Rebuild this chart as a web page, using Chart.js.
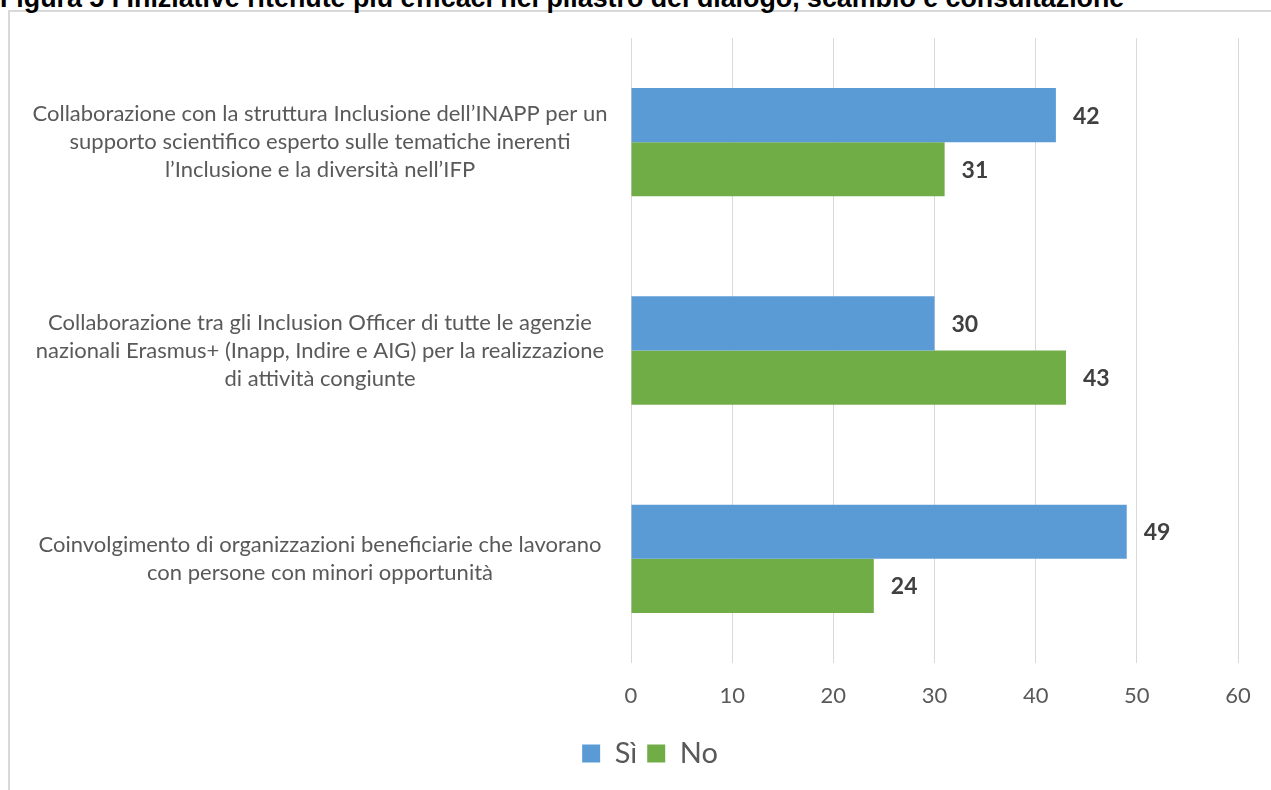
<!DOCTYPE html>
<html lang="it">
<head>
    <meta charset="UTF-8">
    <title>Figura 5</title>
    <script src="https://cdn.jsdelivr.net/npm/chart.js"></script>
    <style>
        body {
            margin: 0;
            width: 1271px;
            height: 790px;
            overflow: hidden;
            background: #fff;
            position: relative;
        }
        .title {
            position: absolute;
            left: 0;
            top: -15px;
            font-family: "Liberation Sans", Arial, sans-serif;
            font-weight: bold;
            font-size: 26.8px;
            line-height: 27px;
            color: #000;
            white-space: nowrap;
        }
        .frame {
            position: absolute;
            left: 8px;
            top: 10px;
            width: 1300px;
            height: 820px;
            border: 2px solid #d9d9d9;
        }
        #chart {
            position: absolute;
            left: 0;
            top: 0;
        }
    </style>
</head>
<body>
    <div class="frame"></div>
    <div class="title">Figura 5 I Iniziative ritenute più efficaci nel pilastro del dialogo, scambio e consultazione</div>
    <canvas id="chart" width="1271" height="790"></canvas>

    <script>
        const categories = [
            ['Collaborazione con la struttura Inclusione dell\u2019INAPP per un', 'supporto scientifico esperto sulle tematiche inerenti', 'l\u2019Inclusione e la diversità nell\u2019IFP'],
            ['Collaborazione tra gli Inclusion Officer di tutte le agenzie', 'nazionali Erasmus+ (Inapp, Indire e AIG) per la realizzazione', 'di attività congiunte'],
            ['Coinvolgimento di organizzazioni beneficiarie che lavorano', 'con persone con minori opportunità']
        ];
        const siValues = [42, 30, 49];
        const noValues = [31, 43, 24];
        const seriesNames = ['Sì', 'No'];
        const xTicks = [0, 10, 20, 30, 40, 50, 60];

        const labelFont = 'Lato, "Open Sans", sans-serif';

        // category labels drawn centred in the left area, multi-line
        const categoryLabels = {
            id: 'categoryLabels',
            afterDraw(chart) {
                const ctx = chart.ctx;
                const y = chart.scales.y;
                ctx.save();
                ctx.font = '22px ' + labelFont;
                ctx.fillStyle = '#595959';
                ctx.textAlign = 'center';
                ctx.textBaseline = 'middle';
                const lh = 28;
                categories.forEach((lines, i) => {
                    const cy = y.getPixelForValue(i);
                    const start = cy - (lines.length - 1) * lh / 2;
                    lines.forEach((line, j) => ctx.fillText(line, 320, start + j * lh));
                });
                ctx.restore();
            }
        };

        // value labels at the end of each bar
        const valueLabels = {
            id: 'valueLabels',
            afterDatasetsDraw(chart) {
                const ctx = chart.ctx;
                ctx.save();
                ctx.font = 'bold 23px ' + labelFont;
                ctx.fillStyle = '#404040';
                ctx.textAlign = 'left';
                ctx.textBaseline = 'middle';
                chart.data.datasets.forEach((ds, di) => {
                    chart.getDatasetMeta(di).data.forEach((bar, i) => {
                        ctx.fillText(ds.data[i], bar.x + 17, bar.y + 1);
                    });
                });
                ctx.restore();
            }
        };

        new Chart(document.getElementById('chart'), {
            type: 'bar',
            data: {
                labels: categories.map(c => c.join(' ')),
                datasets: [
                    { label: seriesNames[0], data: siValues, backgroundColor: '#5B9BD5' },
                    { label: seriesNames[1], data: noValues, backgroundColor: '#70AD47' }
                ]
            },
            options: {
                indexAxis: 'y',
                responsive: false,
                animation: false,
                categoryPercentage: 0.52,
                barPercentage: 1.0,
                layout: { padding: { top: 38, right: 33, bottom: 12, left: 62 } },
                plugins: {
                    legend: {
                        position: 'bottom',
                        labels: {
                            boxWidth: 18,
                            boxHeight: 18,
                            padding: 10,
                            color: '#595959',
                            font: { family: labelFont, size: 29 }
                        }
                    },
                    tooltip: { enabled: false }
                },
                scales: {
                    x: {
                        min: 0,
                        max: 60,
                        afterBuildTicks: scale => { scale.ticks = xTicks.map(v => ({ value: v })); },
                        afterFit: scale => { scale.height = 66; },
                        grid: { color: '#d9d9d9', lineWidth: 1, drawTicks: false },
                        border: { display: false },
                        ticks: {
                            padding: 20,
                            color: '#595959',
                            font: { family: labelFont, size: 22 }
                        }
                    },
                    y: {
                        afterFit: scale => { scale.width = 569; },
                        grid: { display: false },
                        border: { display: false },
                        ticks: { display: false }
                    }
                }
            },
            plugins: [categoryLabels, valueLabels]
        });
    </script>
</body>
</html>
